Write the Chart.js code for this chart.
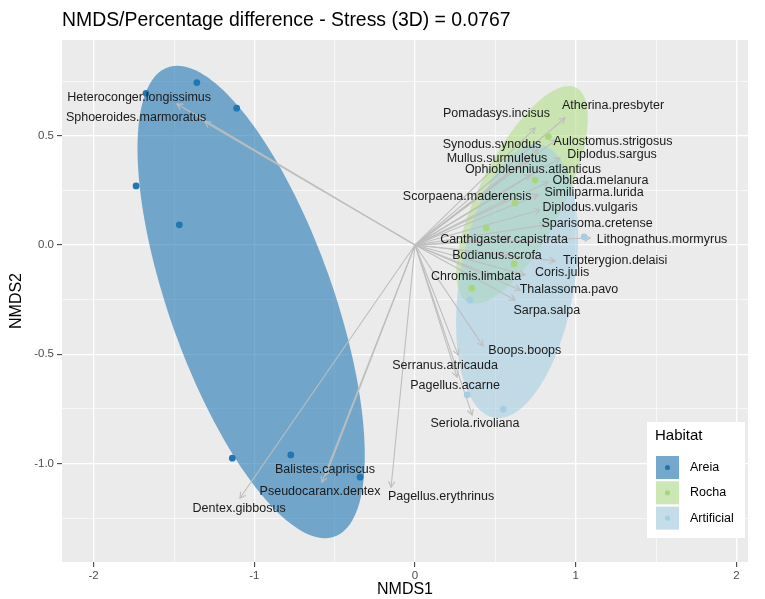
<!DOCTYPE html>
<html>
<head>
<meta charset="utf-8">
<script src="https://cdn.jsdelivr.net/npm/chart.js@4.4.1/dist/chart.umd.min.js"></script>
<style>
  html, body { margin: 0; padding: 0; background: #ffffff; }
  #wrap { width: 765px; height: 599px; }
</style>
</head>
<body>
<div id="wrap"><canvas id="nmds" width="765" height="599"></canvas></div>
<script>
// ---- NMDS site scores, one pair of arrays per habitat ----
const habitats = ['Areia', 'Rocha', 'Artificial'];
const areiaX = [-1.358, -1.110, -1.736, -1.467, -1.674, -1.137, -0.773, -0.342];
const areiaY = [0.743, 0.626, 0.270, 0.092, 0.694, -0.976, -0.961, -1.063];
const rochaX = [0.829, 0.747, 0.622, 0.442, 0.616, 0.353];
const rochaY = [0.496, 0.297, 0.192, 0.078, -0.087, -0.198];
const artificialX = [0.549, 0.324, 1.052, 0.902, 0.342];
const artificialY = [-0.752, -0.686, 0.037, -0.206, -0.252];

// ---- 95% ellipse per habitat: centre and shape (covariance) matrix ----
const ellipseCx = [-1.020, 0.666, 0.635];
const ellipseCy = [-0.261, 0.229, -0.165];
const ellipseSxx = [0.5001, 0.1674, 0.1441];
const ellipseSxy = [-0.4968, 0.1447, 0.0729];
const ellipseSyy = [1.1687, 0.2482, 0.3931];

// ---- species vectors (arrow tips) and where their names sit ----
const species = [
  'Heteroconger.longissimus', 'Sphoeroides.marmoratus', 'Pomadasys.incisus', 'Atherina.presbyter',
  'Synodus.synodus', 'Aulostomus.strigosus', 'Mullus.surmuletus', 'Diplodus.sargus',
  'Ophioblennius.atlanticus', 'Oblada.melanura', 'Similiparma.lurida', 'Scorpaena.maderensis',
  'Diplodus.vulgaris', 'Sparisoma.cretense', 'Canthigaster.capistrata', 'Lithognathus.mormyrus',
  'Bodianus.scrofa', 'Tripterygion.delaisi', 'Coris.julis', 'Chromis.limbata',
  'Thalassoma.pavo', 'Sarpa.salpa', 'Boops.boops', 'Serranus.atricauda',
  'Pagellus.acarne', 'Seriola.rivoliana', 'Balistes.capriscus', 'Pseudocaranx.dentex',
  'Pagellus.erythrinus', 'Dentex.gibbosus'
];
const vectorX = [
  -1.481, -1.307, 0.747, 0.933, 0.765, 0.877, 0.703, 0.902, 0.716, 0.828, 0.765, 0.560,
  0.778, 0.809, 0.591, 1.089, 0.591, 0.871, 0.684, 0.467, 0.653, 0.622, 0.423, 0.268,
  0.261, 0.355, -0.554, -0.579, -0.149, -1.089
];
const vectorY = [
  0.645, 0.563, 0.535, 0.581, 0.435, 0.481, 0.389, 0.398, 0.320, 0.288, 0.229, 0.206,
  0.160, 0.092, 0.032, 0.032, -0.046, -0.073, -0.137, -0.137, -0.206, -0.252, -0.462, -0.503,
  -0.604, -0.778, -1.053, -1.085, -1.108, -1.158
];
const labelX = [
  -1.717, -1.736, 0.507, 1.232, 0.479, 1.232, 0.510, 1.226, 0.734, 1.154, 1.114, 0.324,
  1.089, 1.133, 0.554, 1.537, 0.510, 1.245, 0.915, 0.380, 0.958, 0.820, 0.683, 0.187,
  0.249, 0.373, -0.560, -0.591, 0.162, -1.095
];
const labelY = [
  0.674, 0.583, 0.600, 0.636, 0.458, 0.471, 0.396, 0.412, 0.346, 0.294, 0.238, 0.220,
  0.169, 0.096, 0.023, 0.023, -0.050, -0.072, -0.127, -0.145, -0.206, -0.301, -0.485, -0.552,
  -0.643, -0.817, -1.030, -1.129, -1.152, -1.208
];

// ---- axes ----
const xMajorTicks = [-2, -1, 0, 1, 2];
const xMinorTicks = [-1.5, -0.5, 0.5, 1.5];
const yMajorTicks = [-1.0, -0.5, 0.0, 0.5];
const yMinorTicks = [-1.25, -0.75, -0.25, 0.25, 0.75];
const xRange = [-2.197, 2.072];
const yRange = [-1.451, 0.938];

const chartTitle = 'NMDS/Percentage difference - Stress (3D) = 0.0767';
const legendTitle = 'Habitat';

const FONT = "'Liberation Sans', Arial, Helvetica, sans-serif";
const pointColors = ['#1F78B4', '#A8D67E', '#A6CEE3'];
const fillColors = ['rgba(31,120,180,0.6)', 'rgba(178,223,138,0.6)', 'rgba(166,206,227,0.6)'];
const ARROW = '#BEBEBE';

const toPts = (xs, ys) => xs.map((x, i) => ({ x: x, y: ys[i] }));

function ellipsePath(ctx, sx, sy, k) {
  // Cholesky factor of the shape matrix maps the unit circle onto the ellipse
  const l11 = Math.sqrt(ellipseSxx[k]);
  const l21 = ellipseSxy[k] / l11;
  const l22 = Math.sqrt(ellipseSyy[k] - l21 * l21);
  ctx.beginPath();
  const n = 160;
  for (let i = 0; i <= n; i++) {
    const t = (i / n) * Math.PI * 2;
    const u = Math.cos(t), v = Math.sin(t);
    const px = sx.getPixelForValue(ellipseCx[k] + l11 * u);
    const py = sy.getPixelForValue(ellipseCy[k] + l21 * u + l22 * v);
    if (i === 0) ctx.moveTo(px, py); else ctx.lineTo(px, py);
  }
  ctx.closePath();
}

const panelPlugin = {
  id: 'panel',
  beforeDraw(chart) {
    const { ctx, chartArea: a } = chart;
    ctx.save();
    ctx.fillStyle = '#EBEBEB';
    ctx.fillRect(a.left, a.top, a.right - a.left, a.bottom - a.top);
    ctx.restore();
  },
  beforeDatasetsDraw(chart) {
    const { ctx, chartArea: a } = chart;
    const sx = chart.scales.x, sy = chart.scales.y;
    ctx.save();
    ctx.beginPath();
    ctx.rect(a.left, a.top, a.right - a.left, a.bottom - a.top);
    ctx.clip();
    // confidence ellipses
    for (let k = 0; k < habitats.length; k++) {
      ellipsePath(ctx, sx, sy, k);
      ctx.fillStyle = fillColors[k];
      ctx.fill();
    }
    // species vectors from the origin
    ctx.strokeStyle = ARROW;
    ctx.lineWidth = 1.1;
    ctx.lineCap = 'round';
    const ox = sx.getPixelForValue(0), oy = sy.getPixelForValue(0);
    for (let i = 0; i < species.length; i++) {
      const tx = sx.getPixelForValue(vectorX[i]), ty = sy.getPixelForValue(vectorY[i]);
      ctx.beginPath();
      ctx.moveTo(ox, oy);
      ctx.lineTo(tx, ty);
      ctx.stroke();
      const ang = Math.atan2(ty - oy, tx - ox);
      const len = 6, spread = Math.PI / 6;
      ctx.beginPath();
      ctx.moveTo(tx - len * Math.cos(ang - spread), ty - len * Math.sin(ang - spread));
      ctx.lineTo(tx, ty);
      ctx.lineTo(tx - len * Math.cos(ang + spread), ty - len * Math.sin(ang + spread));
      ctx.stroke();
    }
    ctx.restore();
  },
  afterDatasetsDraw(chart) {
    const { ctx } = chart;
    const sx = chart.scales.x, sy = chart.scales.y;
    ctx.save();
    ctx.fillStyle = '#1A1A1A';
    ctx.font = '12.5px ' + FONT;
    ctx.textAlign = 'center';
    ctx.textBaseline = 'middle';
    for (let i = 0; i < species.length; i++) {
      ctx.fillText(species[i], sx.getPixelForValue(labelX[i]), sy.getPixelForValue(labelY[i]));
    }
    ctx.restore();
  },
  afterDraw(chart) {
    const { ctx, chartArea: a } = chart;
    ctx.save();
    // plot title
    ctx.fillStyle = '#000000';
    ctx.font = '19.4px ' + FONT;
    ctx.textAlign = 'left';
    ctx.textBaseline = 'middle';
    ctx.fillText(chartTitle, a.left, 21);

    // legend inside the panel, bottom right
    const lx = 647, ly = 422, lw = 98, lh = 116;
    ctx.fillStyle = '#FFFFFF';
    ctx.fillRect(lx, ly, lw, lh);
    ctx.fillStyle = '#000000';
    ctx.font = '15px ' + FONT;
    ctx.fillText(legendTitle, lx + 8, ly + 14);
    ctx.font = '12.5px ' + FONT;
    for (let k = 0; k < habitats.length; k++) {
      const kx = lx + 9, ky = ly + 34 + k * 25.3, ks = 23;
      ctx.fillStyle = '#F2F2F2';
      ctx.fillRect(kx, ky, ks, ks);
      ctx.fillStyle = fillColors[k];
      ctx.fillRect(kx, ky, ks, ks);
      ctx.fillStyle = pointColors[k];
      ctx.beginPath();
      ctx.arc(kx + ks / 2, ky + ks / 2, 2.6, 0, Math.PI * 2);
      ctx.fill();
      ctx.fillStyle = '#000000';
      ctx.fillText(habitats[k], lx + 43, ky + ks / 2);
    }
    ctx.restore();
  }
};

const isMajor = (list, v) => list.some(m => Math.abs(m - v) < 1e-9);

new Chart(document.getElementById('nmds'), {
  type: 'scatter',
  data: {
    datasets: [
      { label: habitats[0], data: toPts(areiaX, areiaY), backgroundColor: pointColors[0], borderWidth: 0, pointRadius: 3.4 },
      { label: habitats[1], data: toPts(rochaX, rochaY), backgroundColor: pointColors[1], borderWidth: 0, pointRadius: 3.4 },
      { label: habitats[2], data: toPts(artificialX, artificialY), backgroundColor: pointColors[2], borderWidth: 0, pointRadius: 3.4 }
    ]
  },
  options: {
    responsive: false,
    animation: false,
    devicePixelRatio: 1,
    layout: { padding: { top: 40, right: 17, left: 0, bottom: 0 } },
    plugins: { legend: { display: false }, tooltip: { enabled: false } },
    scales: {
      x: {
        type: 'linear',
        min: xRange[0],
        max: xRange[1],
        afterBuildTicks: s => { s.ticks = xMajorTicks.concat(xMinorTicks).sort((a, b) => a - b).map(v => ({ value: v })); },
        afterFit: s => { s.height = 37; },
        ticks: {
          autoSkip: false, maxRotation: 0, padding: 2,
          color: '#4D4D4D', font: { family: FONT, size: 11.5 },
          callback: v => isMajor(xMajorTicks, v) ? String(v) : ''
        },
        grid: {
          color: '#FFFFFF',
          lineWidth: c => isMajor(xMajorTicks, c.tick.value) ? 1.3 : 0.6,
          tickColor: c => isMajor(xMajorTicks, c.tick.value) ? '#333333' : 'rgba(0,0,0,0)',
          tickLength: 5, tickWidth: 1
        },
        border: { display: false },
        title: { display: true, text: 'NMDS1', color: '#000000', font: { family: FONT, size: 16 }, padding: { top: 0, bottom: 0 } }
      },
      y: {
        type: 'linear',
        min: yRange[0],
        max: yRange[1],
        afterBuildTicks: s => { s.ticks = yMajorTicks.concat(yMinorTicks).sort((a, b) => a - b).map(v => ({ value: v })); },
        afterFit: s => { s.width = 62; },
        ticks: {
          autoSkip: false, padding: 3,
          color: '#4D4D4D', font: { family: FONT, size: 11.5 },
          callback: v => isMajor(yMajorTicks, v) ? v.toFixed(1) : ''
        },
        grid: {
          color: '#FFFFFF',
          lineWidth: c => isMajor(yMajorTicks, c.tick.value) ? 1.3 : 0.6,
          tickColor: c => isMajor(yMajorTicks, c.tick.value) ? '#333333' : 'rgba(0,0,0,0)',
          tickLength: 5, tickWidth: 1
        },
        border: { display: false },
        title: { display: true, text: 'NMDS2', color: '#000000', font: { family: FONT, size: 16 }, padding: { top: 7, bottom: 0 } }
      }
    }
  },
  plugins: [panelPlugin]
});
</script>
</body>
</html>
